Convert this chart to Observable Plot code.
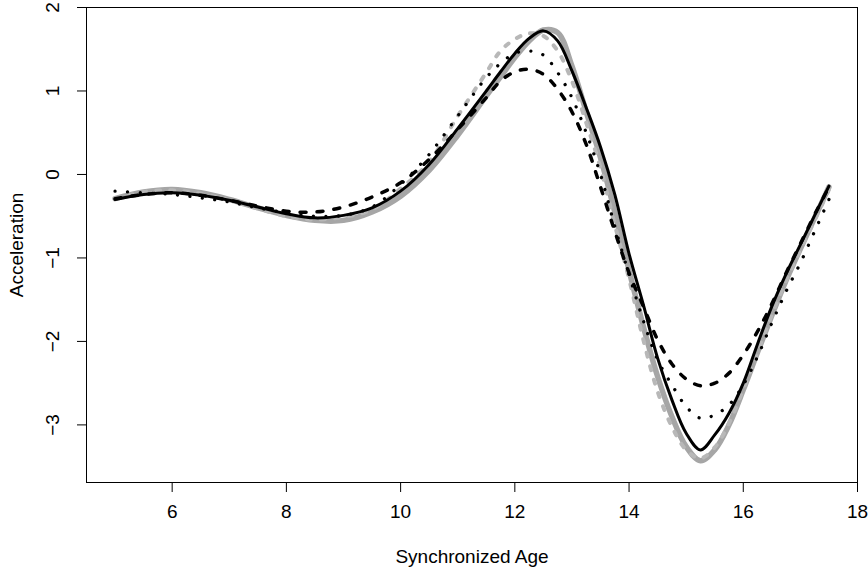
<!DOCTYPE html>
<html><head><meta charset="utf-8">
<script src="https://cdn.jsdelivr.net/npm/d3@7"></script>
<script src="https://cdn.jsdelivr.net/npm/@observablehq/plot@0.6"></script>
<style>html,body{margin:0;padding:0;background:#fff;} #chart svg{display:block;}</style>
</head><body><div id="chart"></div>
<script>
const ages = [5, 5.5, 6, 6.5, 7, 7.5, 8, 8.5, 9, 9.5, 10, 10.5, 11, 11.5, 11.75, 12, 12.25, 12.5, 12.75, 13, 13.25, 13.5, 13.75, 14, 14.25, 14.5, 14.75, 15, 15.25, 15.5, 15.75, 16, 16.25, 16.5, 16.75, 17, 17.25, 17.5];
const grayThick = [-0.29, -0.21, -0.18, -0.22, -0.30, -0.40, -0.49, -0.55, -0.55, -0.45, -0.26, 0.05, 0.47, 0.94, 1.17, 1.40, 1.60, 1.73, 1.70, 1.30, 0.75, 0.20, -0.45, -1.15, -1.82, -2.42, -2.90, -3.26, -3.43, -3.30, -3.00, -2.58, -2.13, -1.69, -1.27, -0.89, -0.52, -0.15];
const grayDashed = [-0.29, -0.21, -0.19, -0.23, -0.31, -0.41, -0.50, -0.54, -0.51, -0.42, -0.17, 0.15, 0.70, 1.22, 1.48, 1.62, 1.69, 1.66, 1.48, 1.12, 0.62, 0.08, -0.60, -1.25, -1.98, -2.60, -3.02, -3.30, -3.40, -3.27, -2.98, -2.57, -2.12, -1.68, -1.27, -0.90, -0.55, -0.18];
const blackSolid = [-0.30, -0.24, -0.22, -0.25, -0.31, -0.39, -0.47, -0.52, -0.49, -0.40, -0.20, 0.12, 0.55, 1.00, 1.23, 1.45, 1.63, 1.72, 1.60, 1.24, 0.80, 0.33, -0.24, -0.95, -1.56, -2.20, -2.70, -3.10, -3.30, -3.12, -2.86, -2.50, -2.03, -1.58, -1.19, -0.84, -0.49, -0.14];
const blackDashed = [-0.29, -0.24, -0.22, -0.25, -0.31, -0.38, -0.44, -0.45, -0.39, -0.27, -0.10, 0.18, 0.54, 0.92, 1.12, 1.23, 1.26, 1.20, 1.02, 0.75, 0.36, -0.15, -0.68, -1.18, -1.58, -1.98, -2.27, -2.45, -2.53, -2.50, -2.38, -2.16, -1.88, -1.55, -1.18, -0.83, -0.48, -0.15];
const blackDotted = [-0.20, -0.22, -0.24, -0.28, -0.33, -0.40, -0.46, -0.50, -0.49, -0.39, -0.12, 0.24, 0.70, 1.16, 1.33, 1.45, 1.48, 1.43, 1.22, 0.92, 0.50, 0.00, -0.62, -1.20, -1.75, -2.22, -2.52, -2.78, -2.92, -2.88, -2.76, -2.52, -2.18, -1.78, -1.40, -1.06, -0.68, -0.30];

const xTicks = [6, 8, 10, 12, 14, 16, 18];
const yTicks = [-3, -2, -1, 0, 1, 2];
const xDomain = [4.5, 18];
const yDomain = [-3.69, 2.0];
const xLabel = "Synchronized Age";
const yLabel = "Acceleration";

const rows = s => ages.map((a, i) => ({age: a, acc: s[i]}));
const fmt = d => d < 0 ? "\u2212" + Math.abs(d) : String(d);
const font = "'Liberation Sans', Arial, Helvetica, sans-serif";
const fs = 19;

const lineStyles = [
  {values: grayThick, stroke: "#a6a6a6", strokeWidth: 5.5},
  {values: grayDashed, stroke: "#b8b8b8", strokeWidth: 4, strokeDasharray: "4,10", strokeLinecap: "round"},
  {values: blackSolid, stroke: "#000", strokeWidth: 3},
  {values: blackDashed, stroke: "#000", strokeWidth: 3.5, strokeDasharray: "6,11", strokeLinecap: "round"},
  {values: blackDotted, stroke: "#000", strokeWidth: 3.3, strokeDasharray: "0.01,12.5", strokeLinecap: "round"}
];

const lineMarks = lineStyles.map(s => Plot.line(rows(s.values), {
  x: "age", y: "acc", curve: "catmull-rom",
  stroke: s.stroke, strokeWidth: s.strokeWidth,
  strokeDasharray: s.strokeDasharray, strokeLinecap: s.strokeLinecap || "round", strokeLinejoin: "round"
}));

const chart = Plot.plot({
  width: 868, height: 571,
  marginLeft: 86, marginRight: 11, marginTop: 7, marginBottom: 89,
  style: {fontFamily: font, fontSize: fs + "px", background: "white", color: "black", overflow: "visible"},
  x: {domain: xDomain},
  y: {domain: yDomain},
  marks: [
    ...lineMarks,
    Plot.frame({stroke: "black", strokeWidth: 1}),
    Plot.axisX(xTicks, {tickSize: 10, tickPadding: 12, fontSize: fs, tickFormat: fmt, label: null}),
    Plot.axisY(yTicks, {tickSize: 9, tickFormat: () => "", label: null}),
    Plot.text(yTicks, {x: () => xDomain[0], y: d => d, text: fmt, rotate: -90, dx: -34, textAnchor: "middle", lineAnchor: "middle", fontSize: fs}),
    Plot.text([xLabel], {frameAnchor: "bottom", dy: 74, lineAnchor: "middle", textAnchor: "middle", text: d => d, fontSize: fs}),
    Plot.text([yLabel], {frameAnchor: "left", dx: -70, rotate: -90, lineAnchor: "middle", textAnchor: "middle", text: d => d, fontSize: fs})
  ]
});
document.getElementById("chart").appendChild(chart);
</script>
</body></html>
